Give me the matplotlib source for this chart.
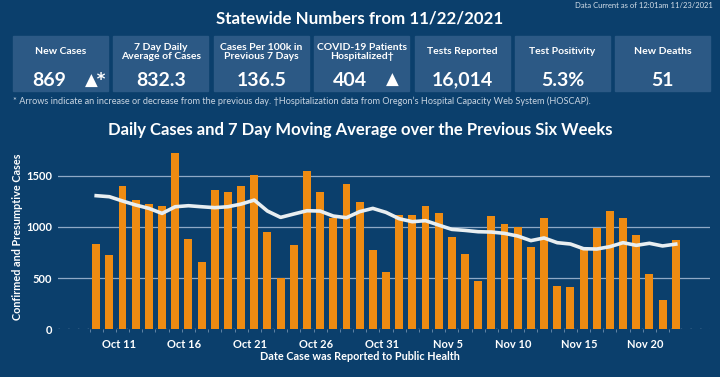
import matplotlib
matplotlib.use("Agg")
import matplotlib.pyplot as plt
from matplotlib.patches import Rectangle
import numpy as np

# daily cases Oct 9 - Nov 22, 2021
day_labels = ["Oct 11", "Oct 16", "Oct 21", "Oct 26", "Oct 31",
              "Nov 5", "Nov 10", "Nov 15", "Nov 20"]
label_days = [2, 7, 12, 17, 22, 27, 32, 37, 42]
cases = [833, 726, 1396, 1266, 1223, 1207, 1718, 882, 657, 1357,
         1344, 1396, 1507, 950, 504, 820, 1549, 1344, 1090, 1415,
         1240, 771, 556, 1119, 1119, 1207, 1132, 901, 732, 475,
         1110, 1025, 999, 804, 1087, 423, 417, 784, 992, 1155,
         1087, 921, 540, 283, 869]
avg7 = [1305, 1295, 1253, 1214, 1181, 1132, 1197, 1207, 1197, 1188,
        1197, 1223, 1262, 1155, 1093, 1126, 1158, 1155, 1106, 1090,
        1149, 1181, 1142, 1080, 1051, 1061, 1018, 976, 966, 953,
        950, 937, 911, 866, 892, 846, 833, 787, 784, 807,
        846, 820, 840, 814, 832]
yticks = [0, 500, 1000, 1500]

card_titles = ["New Cases", "7 Day Daily\nAverage of Cases",
               "Cases Per 100k in\nPrevious 7 Days", "COVID-19 Patients\nHospitalized\u2020",
               "Tests Reported", "Test Positivity", "New Deaths"]
card_values = ["869", "832.3", "136.5", "404", "16,014", "5.3%", "51"]

BG = "#0b3f6c"
CARD = "#2c5985"
ORANGE = "#ee8b12"
FONT = "Lato"

W, H = 720, 377
fig = plt.figure(figsize=(7.2, 3.77), dpi=100)
fig.patch.set_facecolor(BG)

def fx(px):
    return px / W

def fy(py):
    return 1 - py / H

fig.text(fx(713), fy(5), "Data Current as of 12:01am 11/23/2021", ha="right", va="center",
         color="#d6e0ea", fontsize=5.5, family=FONT)
fig.text(fx(360), fy(18), "Statewide Numbers from 11/22/2021", ha="center", va="center",
         color="white", fontsize=12.2, fontweight="bold", family=FONT)

# KPI cards
x0, cw, gap = 13, 95, 5.4
for i, (t, v) in enumerate(zip(card_titles, card_values)):
    left = x0 + i * (cw + gap)
    fig.patches.append(Rectangle((fx(left), fy(91)), fx(cw), 55 / H,
                                 transform=fig.transFigure, color=CARD, zorder=0))
    cx = left + cw / 2
    fig.text(fx(cx), fy(52), t, ha="center", va="center", color="white",
             fontsize=7.5, fontweight="bold", family=FONT, linespacing=1.1)
    if i in (0, 3):
        fig.text(fx(left + 36), fy(80), v, ha="center", va="center", color="white",
                 fontsize=14, fontweight="bold", family=FONT)
        arrow = "\u25b2*" if i == 0 else "\u25b2"
        fig.text(fx(left + 72), fy(80), arrow, ha="left", va="center", color="white",
                 fontsize=12, fontweight="bold", family=["DejaVu Sans"])
    else:
        fig.text(fx(cx), fy(80), v, ha="center", va="center", color="white",
                 fontsize=14, fontweight="bold", family=FONT)

fig.text(fx(13), fy(101),
         "* Arrows indicate an increase or decrease from the previous day. \u2020Hospitalization data from "
         "Oregon\u2019s Hospital Capacity Web System (HOSCAP).",
         ha="left", va="center", color="#c9d5e2", fontsize=6.6, family=FONT)

fig.text(fx(360), fy(130), "Daily Cases and 7 Day Moving Average over the Previous Six Weeks",
         ha="center", va="center", color="white", fontsize=12, fontweight="bold", family=FONT)

# chart
ax = fig.add_axes([fx(58), fy(329.3), fx(652), (329.3 - 145) / H])
ax.set_facecolor(BG)
days = np.arange(len(cases))
ax.bar(days, cases, width=0.6, color=ORANGE, zorder=2)
ax.plot(days, avg7, color="#e8eef1", linewidth=2.6, zorder=3)
ax.set_xlim(-2.9, 46.6)
ax.set_ylim(0, 1800)

for y in yticks[1:]:
    ax.axhline(y, color="#8fa9c6", linewidth=0.9, zorder=1)
ax.axhline(0, color="#9fb3c8", linewidth=1, linestyle=(0, (1, 6)), zorder=1)

ax.set_yticks(yticks)
ax.set_yticklabels([str(v) for v in yticks])
ax.set_xticks([d - 0.3 for d in label_days])
ax.set_xticklabels(day_labels)
ax.set_xticks(days - 0.5, minor=True)
ax.tick_params(axis="x", which="major", length=0, pad=7, colors="white", labelsize=8)
ax.tick_params(axis="x", which="minor", length=2, color="#6f8fae")
ax.tick_params(axis="y", length=0, pad=4, colors="white", labelsize=8)
for lab in ax.get_xticklabels() + ax.get_yticklabels():
    lab.set_fontweight("bold")
    lab.set_family(FONT)
for s in ax.spines.values():
    s.set_visible(False)

ax.set_ylabel("Confirmed and Presumptive Cases", color="white", fontsize=7.8,
              fontweight="bold", family=FONT)
ax.yaxis.set_label_coords((23 - 58) / 652, 0.5)
fig.text(fx(360), fy(357), "Date Case was Reported to Public Health", ha="center", va="center",
         color="white", fontsize=7.8, fontweight="bold", family=FONT)

fig.savefig("out.png", dpi=100, facecolor=BG)
